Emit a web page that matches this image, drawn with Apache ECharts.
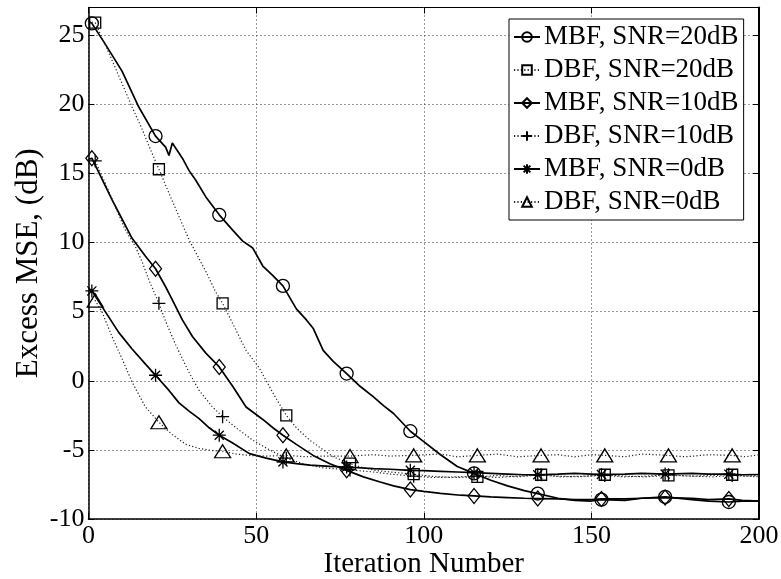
<!DOCTYPE html>
<html><head><meta charset="utf-8">
<script src="https://cdn.jsdelivr.net/npm/echarts@6/dist/echarts.min.js"></script>
<style>html,body{margin:0;padding:0;background:#fff}#c{width:781px;height:579px}</style>
</head><body><div id="c"></div>
<script>
const seriesNames = ['MBF, SNR=20dB','DBF, SNR=20dB','MBF, SNR=10dB','DBF, SNR=10dB','MBF, SNR=0dB','DBF, SNR=0dB'];
const xTicks = [0,50,100,150,200];
const yTicks = [-10,-5,0,5,10,15,20,25];
const mbfMarkX = [1,20,39,58,77,96,115,134,153,172,191];
const dbfMarkX = [2,21,40,59,78,97,116,135,154,173,192];

const mbf20X = [0,1,5,10,15,20,23,24,25,28,30,32,35,39,43,46,49,52,55,58,62,65,67,70,73,77,81,85,88,91,96,100,105,110,115,120,125,130,134,140,145,150,153,160,165,172,180,185,191,195,200];
const mbf20Y = [26.0,25.85,24.35,22.4,19.8,17.7,16.9,16.3,17.2,16.1,15.2,14.5,13.3,12.0,10.9,10.1,9.6,8.3,7.6,6.86,5.2,4.4,3.8,2.2,1.4,0.52,-0.4,-1.17,-1.8,-2.37,-3.65,-4.4,-5.35,-6.2,-6.7,-7.2,-7.6,-7.95,-8.16,-8.5,-8.65,-8.7,-8.6,-8.65,-8.5,-8.4,-8.6,-8.7,-8.77,-8.7,-8.7];

const dbf20X = [0,2,5,7,10,13,16,18,21,25,30,35,38,40,44,47,51,53,56,59,62,66,70,73,78,82,86,90,97,102,108,116,122,128,135,140,146,154,160,166,173,180,186,192,196,200];
const dbf20Y = [26.0,25.9,24.3,23.2,21.5,19.8,18.2,17.0,15.3,13.0,10.2,7.9,6.4,5.6,3.66,2.2,0.9,0.0,-1.3,-2.5,-3.4,-4.3,-5.0,-5.5,-6.0,-6.3,-6.5,-6.6,-6.76,-6.9,-7.0,-6.96,-6.85,-6.95,-6.8,-6.9,-6.95,-6.8,-6.9,-6.95,-6.84,-6.9,-6.85,-6.8,-6.9,-6.85];

const mbf10X = [0,1,4,7,10,13,17,20,23,25,28,31,35,39,43,47,52,55,58,62,67,72,77,82,87,91,96,100,105,111,115,120,125,130,134,140,145,150,153,160,165,172,180,185,191,195,200];
const mbf10Y = [16.0,16.1,14.6,13.1,11.7,10.3,9.0,8.1,6.8,5.85,4.4,3.2,2.0,1.0,-0.4,-1.9,-2.8,-3.4,-3.94,-4.6,-5.4,-6.0,-6.48,-6.95,-7.32,-7.6,-7.87,-8.0,-8.15,-8.28,-8.33,-8.4,-8.45,-8.5,-8.52,-8.55,-8.6,-8.6,-8.55,-8.55,-8.5,-8.45,-8.5,-8.6,-8.55,-8.65,-8.7];

const dbf10X = [0,2,5,8,11,14,16,18,21,23,26,30,33,37,40,44,49,54,59,64,70,78,85,90,97,103,110,116,122,128,135,141,148,154,160,166,173,180,186,192,196,200];
const dbf10Y = [16.0,15.9,14.3,12.6,10.9,9.7,8.6,7.3,5.6,4.3,2.6,0.6,-0.7,-1.9,-2.6,-3.4,-4.3,-5.0,-5.6,-6.0,-6.3,-6.45,-6.6,-6.75,-6.9,-7.0,-6.95,-6.9,-7.0,-6.9,-6.8,-6.95,-6.9,-6.85,-6.95,-6.9,-6.8,-6.9,-6.95,-6.85,-6.9,-6.95];

const mbf0X = [0,1,5,9,13,17,20,24,27,30,33,36,39,43,48,53,58,62,66,72,77,85,90,96,100,105,110,115,120,125,130,134,140,145,150,153,160,165,172,180,185,191,195,200];
const mbf0Y = [6.6,6.5,5.0,3.5,2.3,1.2,0.4,-0.7,-1.6,-2.2,-2.74,-3.4,-3.94,-4.5,-5.27,-5.6,-5.87,-6.0,-6.1,-6.2,-6.24,-6.35,-6.4,-6.48,-6.5,-6.55,-6.6,-6.65,-6.7,-6.75,-6.8,-6.8,-6.75,-6.7,-6.75,-6.78,-6.75,-6.7,-6.75,-6.7,-6.75,-6.76,-6.8,-6.78];

const dbf0X = [0,2,4,7,10,13,17,21,25,29,33,37,40,44,48,53,59,65,70,78,85,90,97,105,110,116,122,128,135,140,145,150,154,160,165,173,178,185,192,196,200];
const dbf0Y = [6.0,5.8,5.0,3.2,1.6,-0.1,-1.9,-3.0,-3.9,-4.6,-4.9,-5.05,-5.1,-5.3,-5.4,-5.45,-5.4,-5.5,-5.45,-5.45,-5.35,-5.45,-5.4,-5.3,-5.5,-5.4,-5.3,-5.5,-5.4,-5.35,-5.5,-5.35,-5.4,-5.5,-5.3,-5.4,-5.5,-5.35,-5.4,-5.5,-5.35];

const FONT = '"Liberation Serif", "Times New Roman", serif';
const PLUS = 'path://M0,-10L0,10M-10,0L10,0';
const STAR = 'path://M0,-10L0,10M-10,0L10,0M-7,-7L7,7M-7,7L7,-7';

function build(xs, ys, marks) {
  return xs.map((x, i) => marks.indexOf(x) >= 0 ? {value: [x, ys[i]]} : {value: [x, ys[i]], symbol: 'none'});
}
function mk(name, xs, ys, marks, symbol, size, dotted) {
  return {
    name: name, type: 'line', xAxisIndex: 0, yAxisIndex: 0,
    data: build(xs, ys, marks),
    symbol: symbol, symbolSize: size, showAllSymbol: true,
    smooth: false, animation: false,
    lineStyle: dotted ? {color: '#222', width: 1.2, type: [1.2, 2.2]} : {color: '#000', width: 1.7},
    itemStyle: {color: 'rgba(255,255,255,0)', borderColor: '#000', borderWidth: 1.3},
    emphasis: {disabled: true}
  };
}

const chart = echarts.init(document.getElementById('c'), null, {renderer: 'canvas'});
const axisLine = {show: true, onZero: false, lineStyle: {color: '#000', width: 1.5}};
const tick = {show: true, inside: true, length: 6, lineStyle: {color: '#000', width: 1}};
const grid = {show: true, lineStyle: {color: '#333', width: 1, type: [1, 3]}};
chart.setOption({
  backgroundColor: '#fff',
  animation: false,
  grid: {left: 88.5, right: 22, top: 7.5, bottom: 60, containLabel: false, outerBoundsMode: 'none'},
  legend: {
    orient: 'vertical', left: 509, top: 19,
    backgroundColor: '#fff', borderColor: '#000', borderWidth: 1, borderRadius: 0,
    padding: [3, 5, 3, 4], itemWidth: 26, itemHeight: 12, itemGap: 3,
    textStyle: {fontFamily: FONT, fontSize: 27, color: '#000', lineHeight: 30, padding: [0, 0, 0, -1]},
    data: seriesNames
  },
  xAxis: [{
    type: 'value', min: 0, max: 200, interval: 50, position: 'bottom',
    name: 'Iteration Number', nameLocation: 'middle', nameGap: 31, nameMoveOverlap: false,
    nameTextStyle: {fontFamily: FONT, fontSize: 29, color: '#000'},
    axisLine: axisLine, axisTick: tick, splitLine: grid,
    axisLabel: {fontFamily: FONT, fontSize: 26, color: '#000', margin: 4,
      formatter: v => xTicks.indexOf(v) >= 0 ? String(v) : ''}
  }, {
    type: 'value', min: 0, max: 200, interval: 50, position: 'top',
    axisLine: {show: true, onZero: false, lineStyle: {color: '#000', width: 1}}, axisTick: tick, splitLine: {show: false}, axisLabel: {show: false}
  }],
  yAxis: [{
    type: 'value', min: -10, max: 27, interval: 5, position: 'left',
    name: 'Excess MSE, (dB)', nameLocation: 'middle', nameGap: 44, nameRotate: 90, nameMoveOverlap: false,
    nameTextStyle: {fontFamily: FONT, fontSize: 31, color: '#000'},
    axisLine: axisLine, axisTick: tick, splitLine: grid,
    axisLabel: {fontFamily: FONT, fontSize: 26, color: '#000', margin: 4,
      formatter: v => yTicks.indexOf(v) >= 0 ? (v < 0 ? '-' + Math.abs(v) : String(v)) : ''}
  }, {
    type: 'value', min: -10, max: 27, interval: 5, position: 'right',
    axisLine: {show: true, onZero: false, lineStyle: {color: '#000', width: 2}}, axisTick: tick, splitLine: {show: false}, axisLabel: {show: false}
  }],
  series: [
    mk(seriesNames[0], mbf20X, mbf20Y, mbfMarkX, 'circle', 13, false),
    mk(seriesNames[1], dbf20X, dbf20Y, dbfMarkX, 'rect', 11, true),
    mk(seriesNames[2], mbf10X, mbf10Y, mbfMarkX, 'diamond', [12, 15], false),
    mk(seriesNames[3], dbf10X, dbf10Y, dbfMarkX, PLUS, 13, true),
    mk(seriesNames[4], mbf0X, mbf0Y, mbfMarkX, STAR, 13, false),
    mk(seriesNames[5], dbf0X, dbf0Y, dbfMarkX, 'triangle', [16, 13], true)
  ]
});
</script></body></html>
